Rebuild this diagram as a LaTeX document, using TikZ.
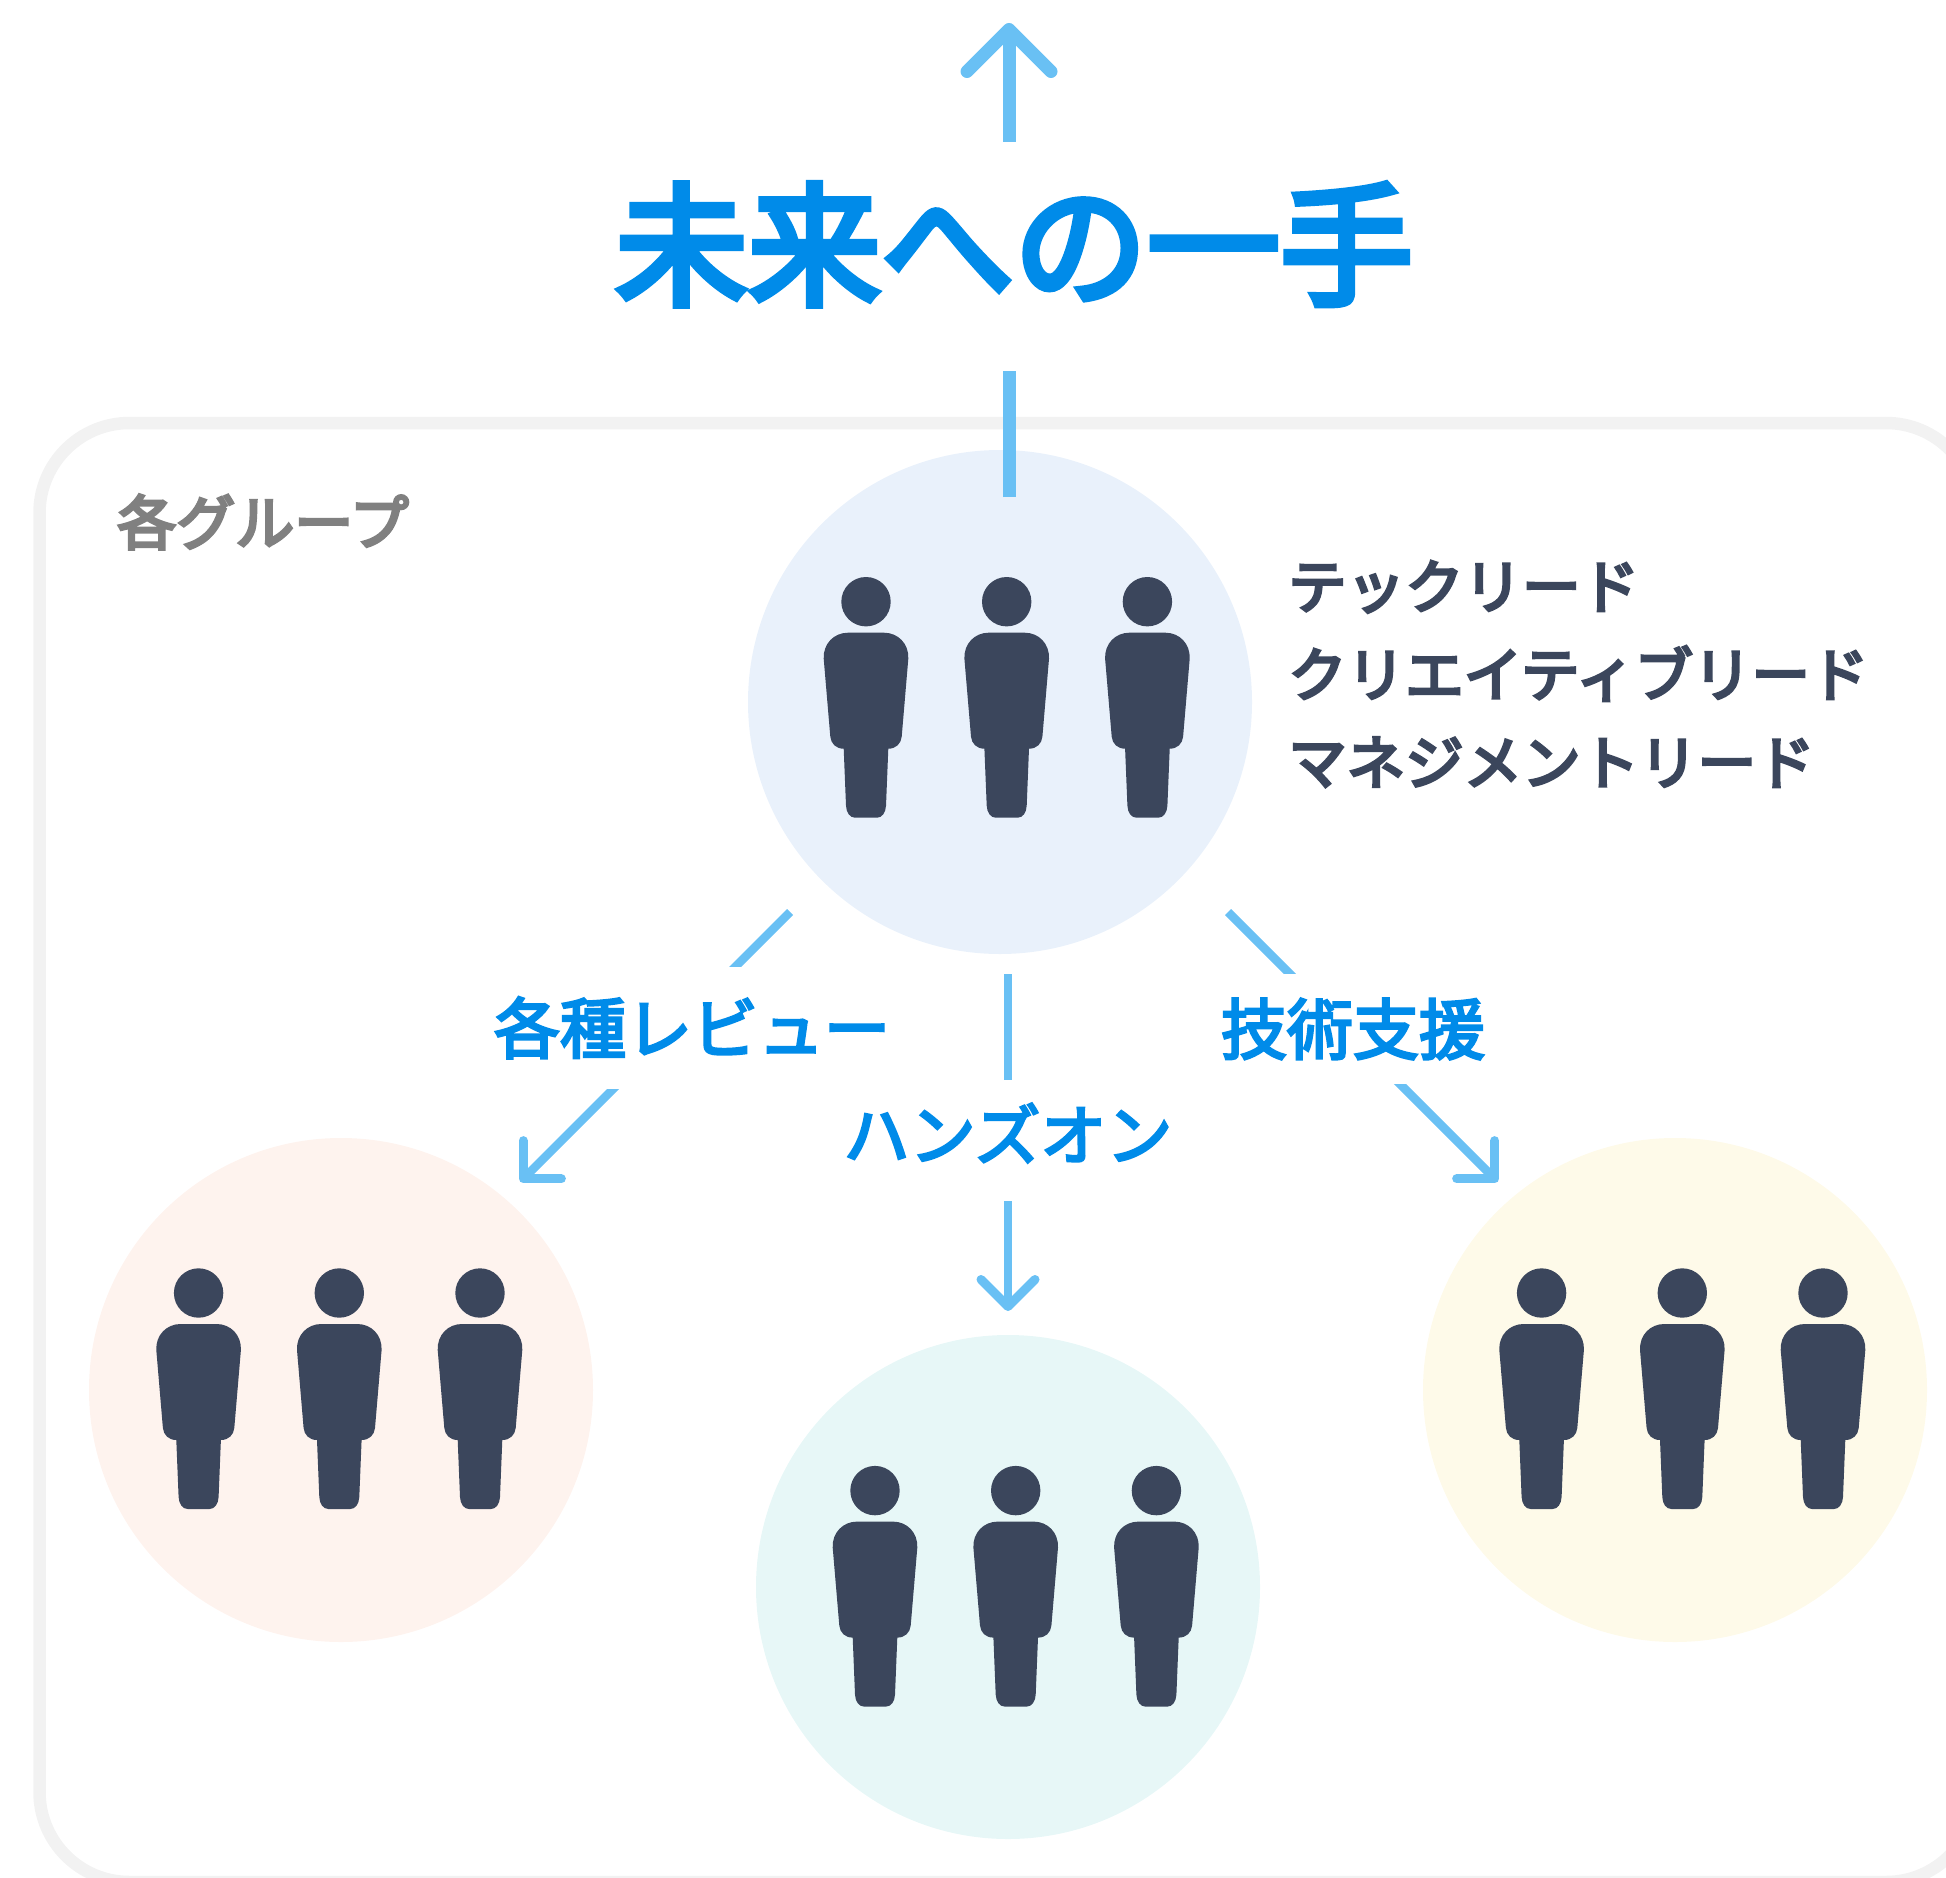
\documentclass[tikz,border=0pt]{standalone}
\usepackage{fontspec}
\usetikzlibrary{arrows.meta}
\newfontfamily\cjk[FakeBold=5]{Noto Sans CJK JP}
\newfontfamily\cjklabel[FakeBold=4]{Noto Sans CJK JP}
\definecolor{arrowblue}{HTML}{69C0F4}
\definecolor{titleblue}{HTML}{008BE9}
\definecolor{personblue}{HTML}{3B465C}
\definecolor{framegray}{HTML}{F2F2F2}
\definecolor{leadfill}{HTML}{E9F1FB}
\definecolor{reviewfill}{HTML}{FEF3EE}
\definecolor{handsfill}{HTML}{E7F7F7}
\definecolor{supportfill}{HTML}{FEFAE9}
\tikzset{
  groupcircle/.style={circle,minimum size=504pt,inner sep=0pt,fill=#1},
  flowlabel/.style={fill=white,text=titleblue,inner xsep=2pt,inner ysep=0pt,minimum height=#1,
    font=\cjklabel\fontsize{66}{66}\selectfont,text height=58pt,text depth=8pt},
  flow/.style={arrowblue,line width=8.5pt,-{Straight Barb[length=27pt,width=54pt,round,line width=9pt]}},
  person/.pic={
    \fill (0,0) circle (24.7);
    \fill (-18,31) .. controls (-32,31) and (-43,42) .. (-42.3,57) -- (-35.7,135)
      .. controls (-35,142) and (-30,147) .. (-22.3,147) -- (-20,204)
      .. controls (-19.7,211) and (-16,216) .. (-11,216) -- (11,216)
      .. controls (16,216) and (19.7,211) .. (20,204) -- (22.3,147)
      .. controls (30,147) and (35,142) .. (35.7,135) -- (42.3,57)
      .. controls (43,42) and (32,31) .. (18,31) -- cycle;
  }
}
\begin{document}
\begin{tikzpicture}[x=1pt,y=-1pt]
\useasboundingbox (0,0) rectangle (1946,1878);
% outline
\draw[framegray,line width=12.5pt,rounded corners=90pt] (39.5,423) rectangle (1976,1882);
% groups
\node[groupcircle=leadfill] (lead) at (1000,702) {};
\node[groupcircle=reviewfill] (review) at (341,1390) {};
\node[groupcircle=handsfill] (hands) at (1008,1587) {};
\node[groupcircle=supportfill] (support) at (1675,1390) {};
% people
\foreach \px/\py in {866/601.7,198.6/1293,875/1490.6,1541.6/1293}
  \foreach \i in {0,1,2}
    \pic[personblue] at (\px+\i*140.7,\py) {person};
% connectors
\coordinate (upStart) at (1009,497);
\coordinate (upEnd) at (1009,23);
\coordinate (reviewStart) at (790,912);
\coordinate (reviewEnd) at (520,1182);
\coordinate (handsStart) at (1008,974);
\coordinate (handsEnd) at (1008,1311);
\coordinate (supportStart) at (1228,912);
\coordinate (supportEnd) at (1498,1182);
\draw[arrowblue,line width=13pt,-{Straight Barb[length=42pt,width=84pt,round]}] (upStart) -- (upEnd);
\draw[flow] (reviewStart) -- (reviewEnd);
\draw[flow] (handsStart) -- (handsEnd);
\draw[flow] (supportStart) -- (supportEnd);
% labels
\node[fill=white,text=titleblue,inner sep=0pt,minimum width=820pt,
  font=\cjk\fontsize{133}{133}\selectfont,text height=153pt,text depth=76pt] (title) at (1014,256.5) {未来への一手};
\node[flowlabel=122pt] (reviewLabel) at (692,1028) {各種レビュー};
\node[flowlabel=121pt,text height=52pt,text depth=14pt] (handsLabel) at (1008,1140.5) {ハンズオン};
\node[flowlabel=110pt] (supportLabel) at (1353,1029) {技術支援};
\node[text=gray,inner sep=0pt,font=\cjk\fontsize{59}{59}\selectfont] (groupLabel) at (263,522) {各グループ};
\node[anchor=west,align=left,text=personblue,inner sep=0pt,
  font=\cjk\fontsize{58.5}{88}\selectfont] (leadRoles) at (1288,674) {テックリード\\クリエイティブリード\\マネジメントリード};
\end{tikzpicture}
\end{document}
